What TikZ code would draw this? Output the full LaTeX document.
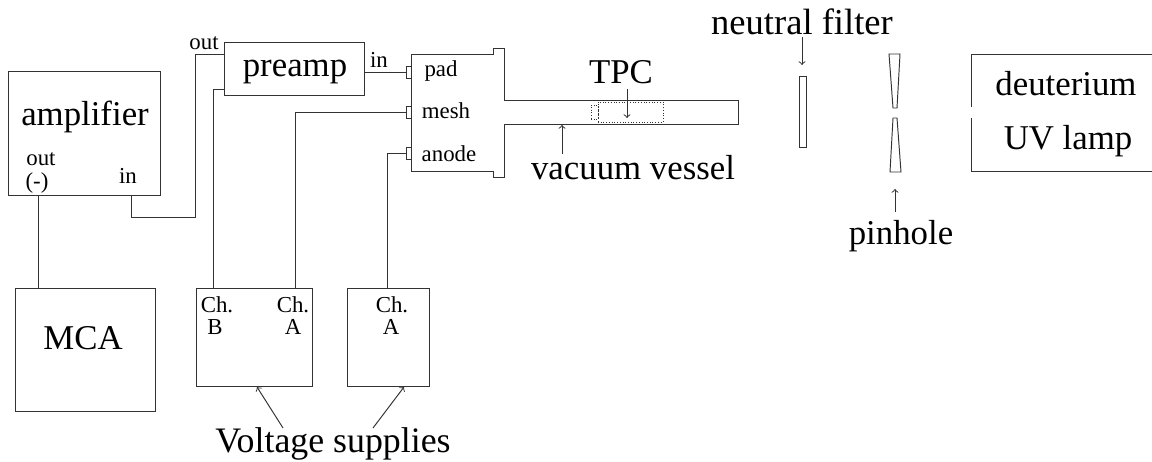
\documentclass[tikz,border=0pt]{standalone}
\usepackage{fontspec}
\setmainfont{Liberation Serif}
\tikzset{
  wire/.style={draw=black!80,line width=0.55pt},
  box/.style 2 args={wire,rectangle,inner sep=0pt,outer sep=0pt,minimum width=#1*0.02cm,minimum height=#2*0.02cm},
  bigtext/.style={font=\fontsize{19.8}{22}\selectfont,inner sep=0pt},
  smalltext/.style={font=\fontsize{13}{15}\selectfont,inner sep=0pt}
}
\begin{document}
\begin{tikzpicture}[x=0.02cm,y=-0.02cm]
      % \draw[help lines](0,0) grid (1152,462);
      \useasboundingbox (0,0) rectangle (1152,462);

      % boxes
      \draw (84,133) node [box={152}{124}] (amplifier) {};
      \draw (294,68.5) node [box={140}{53}] (preamp) {};
      \draw (85,349.5) node [box={140}{123}] (mca) {};
      \draw (254,337) node [box={116}{98}] (supplyone) {};
      \draw (388,337) node [box={82}{98}] (supplytwo) {};

      \draw (85,117) node [bigtext] (amplifiertext) {amplifier};
      \draw (295,72) node [bigtext] (preamptext) {preamp};
      \draw (83,338) node [bigtext] (mcatext) {MCA};
      \draw (333,444) node [bigtext,font=\fontsize{20.4}{22}\selectfont] (supplytext) {Voltage supplies};
      \draw (633,168) node [bigtext] (vesseltext) {vacuum vessel};
      \draw (621,72) node [bigtext] (tpctext) {TPC};
      \draw (802,22) node [bigtext,font=\fontsize{20.8}{22}\selectfont] (filtertext) {neutral filter};
      \draw (901,236) node [bigtext] (pinholetext) {pinhole};
      \draw (1066,84) node [bigtext] (deuteriumtext) {deuterium};
      \draw (1068,141) node [bigtext] (lamptext) {UV lamp};

      \draw (41,159) node [smalltext] (ampout) {out};
      \draw (37,183) node [smalltext] (ampminus) {(-)};
      \draw (128,176) node [smalltext] (ampin) {in};
      \draw (204,43) node [smalltext] (preout) {out};
      \draw (379,60) node [smalltext] (prein) {in};
      \draw (441,71) node [smalltext] (padtext) {pad};
      \draw (446,111) node [smalltext] (meshtext) {mesh};
      \draw (449,154) node [smalltext] (anodetext) {anode};
      \draw (217,305) node [smalltext] (chb) {Ch.};
      \draw (215,327) node [smalltext] (chbletter) {B};
      \draw (293,305) node [smalltext] (cha) {Ch.};
      \draw (293,327) node [smalltext] (chaletter) {A};
      \draw (392,305) node [smalltext] (chc) {Ch.};
      \draw (391,327) node [smalltext] (chcletter) {A};

      % vessel
      \draw [wire] (411,54) -- (493,54) -- (493,48) -- (504,48) -- (504,100) -- (738,100)
        -- (738,124) -- (504,124) -- (504,177) -- (493,177) -- (493,171) -- (411,171) -- cycle;
      \draw (408.5,72) node [box={5}{12}] (padtab) {};
      \draw (408.5,112) node [box={5}{12}] (meshtab) {};
      \draw (408.5,153) node [box={5}{12}] (anodetab) {};
      \draw (630.5,112) node [box={65}{20},densely dotted] (tpc) {};
      \draw (594.5,112) node [box={7}{14},densely dotted] (tpcend) {};

      % filter, pinhole, lamp
      \draw (802.5,111.5) node [box={7}{71}] (filter) {};
      \draw [wire] (889,54) -- (900,54) -- (897,108) -- (893,108) -- cycle;
      \draw [wire] (893,118) -- (897,118) -- (901,172) -- (890,172) -- cycle;
      \draw [wire] (971,107) -- (971,54) -- (1152,54);
      \draw [wire] (971,118) -- (971,171) -- (1152,171);

      % wires
      \coordinate (amplifierin) at (131,195);
      \coordinate (amplifierout) at (38,195);
      \coordinate (preampout) at (224,54);
      \coordinate (preamphv) at (224,89);
      \draw [wire] (amplifierout) -- (amplifierout |- mca.north);
      \draw [wire] (amplifierin) -- (131,217) -- (195,217) -- (195,54) -- (preampout);
      \draw [wire] (preamphv) -- (213,89) -- (213,288);
      \draw [wire] (preamp.east |- padtab) -- (padtab.west);
      \draw [wire] (meshtab.west) -- (295,112) -- (295,288);
      \draw [wire] (anodetab.west) -- (387,153) -- (387,288);

      % pointers
      \coordinate (tpcfrom) at (627,89);
      \coordinate (tpcto) at (627,118);
      \coordinate (vesselfrom) at (562,154);
      \coordinate (vesselto) at (562,125);
      \coordinate (filterfrom) at (802,37);
      \coordinate (filterto) at (802,65);
      \coordinate (pinholefrom) at (895,212);
      \coordinate (pinholeto) at (895,189);
      \coordinate (supplyfromone) at (283,428);
      \coordinate (supplytoone) at (257,387);
      \coordinate (supplyfromtwo) at (373,428);
      \coordinate (supplytotwo) at (404,387);
      \draw [wire,->] (tpcfrom) -- (tpcto);
      \draw [wire,->] (vesselfrom) -- (vesselto);
      \draw [wire,->] (filterfrom) -- (filterto);
      \draw [wire,->] (pinholefrom) -- (pinholeto);
      \draw [wire,->] (supplyfromone) -- (supplytoone);
      \draw [wire,->] (supplyfromtwo) -- (supplytotwo);
    \end{tikzpicture}
\end{document}
